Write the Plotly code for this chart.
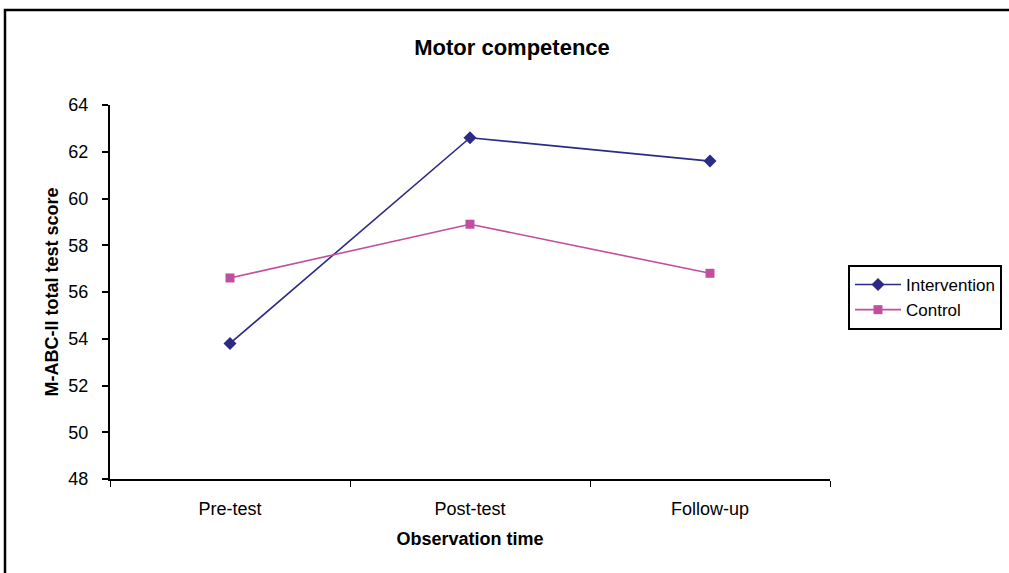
import plotly.graph_objects as go

categories = ["Pre-test", "Post-test", "Follow-up"]
intervention = [53.8, 62.6, 61.6]
control = [56.6, 58.9, 56.8]

W, H = 1009, 573
L, R, T, B = 110, 830, 105, 479

def px(x):
    return (x - L) / (R - L)

def py(y):
    return (B - y) / (B - T)

fig = go.Figure()
fig.add_trace(go.Scatter(x=categories, y=intervention, name="Intervention",
                         mode="lines+markers",
                         line=dict(color="#2B2A86", width=1.6),
                         marker=dict(symbol="diamond", size=10, color="#2B2A86")))
fig.add_trace(go.Scatter(x=categories, y=control, name="Control",
                         mode="lines+markers",
                         line=dict(color="#C24E9F", width=1.6),
                         marker=dict(symbol="square", size=9, color="#C24E9F")))

fig.update_layout(
    width=W, height=H,
    margin=dict(l=L, r=W - R, t=T, b=H - B, autoexpand=False),
    paper_bgcolor="white", plot_bgcolor="white",
    font=dict(family="Liberation Sans, Arial, sans-serif", size=18, color="black"),
    title=dict(text="<b>Motor competence</b>", x=512 / W, xanchor="center",
               y=1 - 47 / H, yanchor="middle", font=dict(size=22)),
    showlegend=True,
    legend=dict(x=px(848), y=py(265), xanchor="left", yanchor="top",
                bordercolor="black", borderwidth=2, bgcolor="white",
                font=dict(size=17), tracegroupgap=0, itemwidth=46),
    xaxis=dict(type="category", range=[-0.5, 2.5], tickson="boundaries",
               ticks="outside", ticklen=6, tickcolor="black", tickwidth=1,
               showline=True, linecolor="black", linewidth=1.5,
               showgrid=False, zeroline=False, ticklabelstandoff=13,
               tickfont=dict(size=18),
               title=dict(text="<b>Observation time</b>", font=dict(size=18), standoff=14)),
    yaxis=dict(range=[48, 64], dtick=2, ticks="outside", ticklen=6,
               tickcolor="black", tickwidth=1.5,
               showline=True, linecolor="black", linewidth=2,
               showgrid=False, zeroline=False, ticklabelstandoff=10,
               tickfont=dict(size=18),
               title=dict(text="<b>M-ABC-II total test score</b>", font=dict(size=18), standoff=5)),
    shapes=[dict(type="rect", xref="paper", yref="paper",
                 x0=px(5), x1=px(1020), y0=py(590), y1=py(10),
                 line=dict(color="black", width=2.5), fillcolor="rgba(0,0,0,0)",
                 layer="below")],
)

fig.write_html("out.html", config={"displayModeBar": False},
               post_script="document.body.style.margin='0';")
